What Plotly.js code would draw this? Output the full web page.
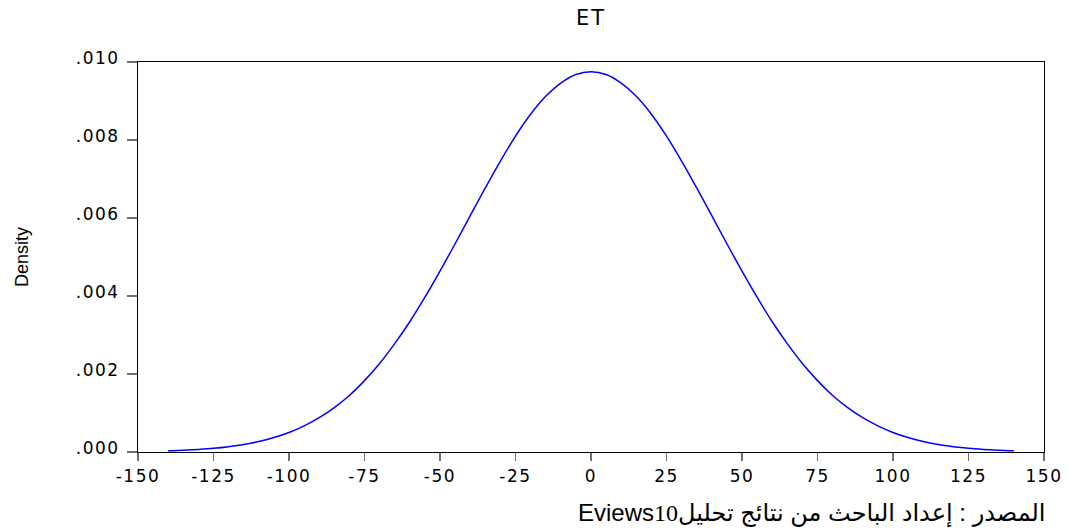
<!DOCTYPE html>
<html>
<head>
<meta charset="utf-8">
<script src="https://cdn.plot.ly/plotly-3.0.1.min.js"></script>
<style>
  html, body { margin: 0; padding: 0; background: #fff; }
  #chart { width: 1068px; height: 529px; }
  .xtick text, .ytick text { letter-spacing: 1.5px; }
  .gtitle { letter-spacing: 2px; }
</style>
</head>
<body>
<div id="chart"></div>
<script>
// Values
const xValues = [-140, -135, -130, -125, -120, -115, -110, -105, -100, -95, -90, -85, -80, -75, -70, -65, -60, -55, -50, -45, -40, -35, -30, -25, -20, -15, -10, -5, 0,
                 5, 10, 15, 20, 25, 30, 35, 40, 45, 50, 55, 60, 65, 70, 75, 80, 85, 90, 95, 100, 105, 110, 115, 120, 125, 130, 135, 140];
const densityValues = [0.000029, 0.000043, 0.000064, 0.000093, 0.000135, 0.00019, 0.00027, 0.00037, 0.00050, 0.00067, 0.00088, 0.00114, 0.00145, 0.00183, 0.00227, 0.00278, 0.00334, 0.00397, 0.00464, 0.00534, 0.00606, 0.00677, 0.00746, 0.00810, 0.00866, 0.00912, 0.00946, 0.00968, 0.00975,
                       0.00968, 0.00946, 0.00912, 0.00866, 0.00810, 0.00746, 0.00677, 0.00606, 0.00534, 0.00464, 0.00397, 0.00334, 0.00278, 0.00227, 0.00183, 0.00145, 0.00114, 0.00088, 0.00067, 0.00050, 0.00037, 0.00027, 0.00019, 0.000135, 0.000093, 0.000064, 0.000043, 0.000029];

const xTickValues = [-150, -125, -100, -75, -50, -25, 0, 25, 50, 75, 100, 125, 150];
const xTickLabels = ["-150", "-125", "-100", "-75", "-50", "-25", "0", "25", "50", "75", "100", "125", "150"];
const yTickValues = [0, 0.002, 0.004, 0.006, 0.008, 0.010];
const yTickLabels = [".000", ".002", ".004", ".006", ".008", ".010"];

const chartTitle = "ET";
const yTitle = "Density";
const sourceText = "\u202Bالمصدر : إعداد الباحث من نتائج تحليلEviews<span style=\"font-family:'Liberation Serif'\">10</span>\u202C";

const tickFont = { family: "DejaVu Sans", size: 17, color: "#000" };

const trace = {
  x: xValues,
  y: densityValues,
  type: "scatter",
  mode: "lines",
  line: { color: "#0000ff", width: 1.5, shape: "spline", smoothing: 1 },
  hoverinfo: "skip"
};

const layout = {
  width: 1068,
  height: 529,
  margin: { l: 138, r: 24, t: 62, b: 77, pad: 0 },
  paper_bgcolor: "#fff",
  plot_bgcolor: "#fff",
  showlegend: false,
  title: {
    text: chartTitle,
    font: { family: "DejaVu Sans", size: 21, color: "#000" },
    xref: "paper", x: 0.5, xanchor: "center",
    yref: "container", y: 1 - 17.5 / 529, yanchor: "middle"
  },
  xaxis: {
    range: [-150, 150],
    tickmode: "array",
    tickvals: xTickValues,
    ticktext: xTickLabels,
    ticks: "outside", ticklen: 8, tickwidth: 1.5, tickcolor: "#6e6e6e",
    ticklabelstandoff: 1,
    showline: true, linecolor: "#000", linewidth: 1, mirror: true,
    showgrid: false, zeroline: false,
    tickfont: tickFont,
    fixedrange: true
  },
  yaxis: {
    range: [0, 0.010],
    tickmode: "array",
    tickvals: yTickValues,
    ticktext: yTickLabels,
    ticks: "outside", ticklen: 10, tickwidth: 1.5, tickcolor: "#6e6e6e",
    ticklabelshift: -4,
    ticklabelstandoff: 4,
    showline: true, linecolor: "#000", linewidth: 1, mirror: true,
    showgrid: false, zeroline: false,
    tickfont: tickFont,
    fixedrange: true
  },
  annotations: [
    {
      text: yTitle,
      xref: "paper", yref: "paper",
      x: (22 - 138) / 906, y: 0.5,
      xanchor: "center", yanchor: "middle",
      textangle: -90,
      showarrow: false,
      font: { family: "Liberation Sans Narrow, Liberation Sans", size: 18, color: "#000" }
    },
    {
      text: sourceText,
      xref: "paper", yref: "paper",
      x: (1048 - 138) / 906, y: (452 - 513) / 390,
      xanchor: "right", yanchor: "middle",
      showarrow: false,
      font: { family: "Liberation Sans, DejaVu Sans", size: 24, color: "#000" }
    }
  ]
};

Plotly.newPlot("chart", [trace], layout, { displayModeBar: false, staticPlot: true });
</script>
</body>
</html>
